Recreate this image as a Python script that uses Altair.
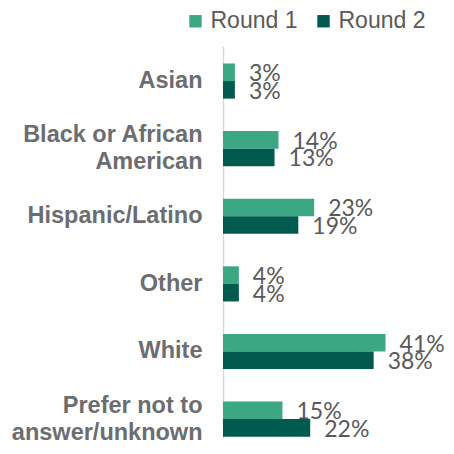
import altair as alt
import pandas as pd

categories = ["Asian", "Black or African American", "Hispanic/Latino", "Other", "White",
              "Prefer not to answer/unknown"]
series = ["Round 1", "Round 2"]
round1 = [3, 14, 23, 4, 41, 15]
round2 = [3, 13, 19, 4, 38, 22]
colors = ["#3CA883", "#005A4E"]

rows = []
for c, a, b in zip(categories, round1, round2):
    rows.append({"category": c, "round": series[0], "value": a})
    rows.append({"category": c, "round": series[1], "value": b})
df = pd.DataFrame(rows)
df["label"] = df["value"].astype(str) + "%"

label_expr = ("datum.label == 'Black or African American' ? ['Black or African', 'American'] : "
              "datum.label == 'Prefer not to answer/unknown' ? ['Prefer not to', 'answer/unknown'] : datum.label")
multi_test = "length(datum.value) > 20"

y = alt.Y("category:N", sort=categories, title=None,
          scale=alt.Scale(paddingInner=0.48, paddingOuter=0.139, align=0.93),
          axis=alt.Axis(labelExpr=label_expr, ticks=False, labelPadding=21, labelFontSize=23.5,
                        labelFontWeight="bold", labelColor="#6B6D70", labelFont="Liberation Sans",
                        labelLineHeight=27, labelLimit=400, domainColor="#D9D9D9", domainWidth=1.5,
                        labelOffset={"condition": {"test": multi_test, "value": -13.5}, "value": 0},
                        grid=False))
x = alt.X("value:Q", scale=alt.Scale(domain=[0, 56]), axis=None)
yoff = alt.YOffset("round:N", sort=series)

base = alt.Chart(df)
bars = base.mark_bar().encode(
    x=x, y=y, yOffset=yoff,
    color=alt.Color("round:N", scale=alt.Scale(domain=series, range=colors),
                    legend=alt.Legend(title=None, orient="none", legendX=-39, legendY=-36.5,
                                      direction="horizontal", symbolType="square", symbolSize=154,
                                      symbolStrokeWidth=0, symbolOpacity=1, labelFontSize=23,
                                      labelFont="Liberation Sans", labelColor="#595959",
                                      labelOffset=3.5, columnPadding=14, padding=0)),
)
text = base.mark_text(align="left", baseline="middle", dx=14, dy=2, font="Lato", fontSize=23,
                      color="#595959").encode(x=x, y=y, yOffset=yoff, text="label:N")

chart = (bars + text).properties(
    width=222, height=392, autosize="none",
    padding={"left": 215, "top": 38, "right": 0, "bottom": 8},
).configure_view(stroke=None)

chart.save("out.html", embed_options={"renderer": "svg", "actions": False})
